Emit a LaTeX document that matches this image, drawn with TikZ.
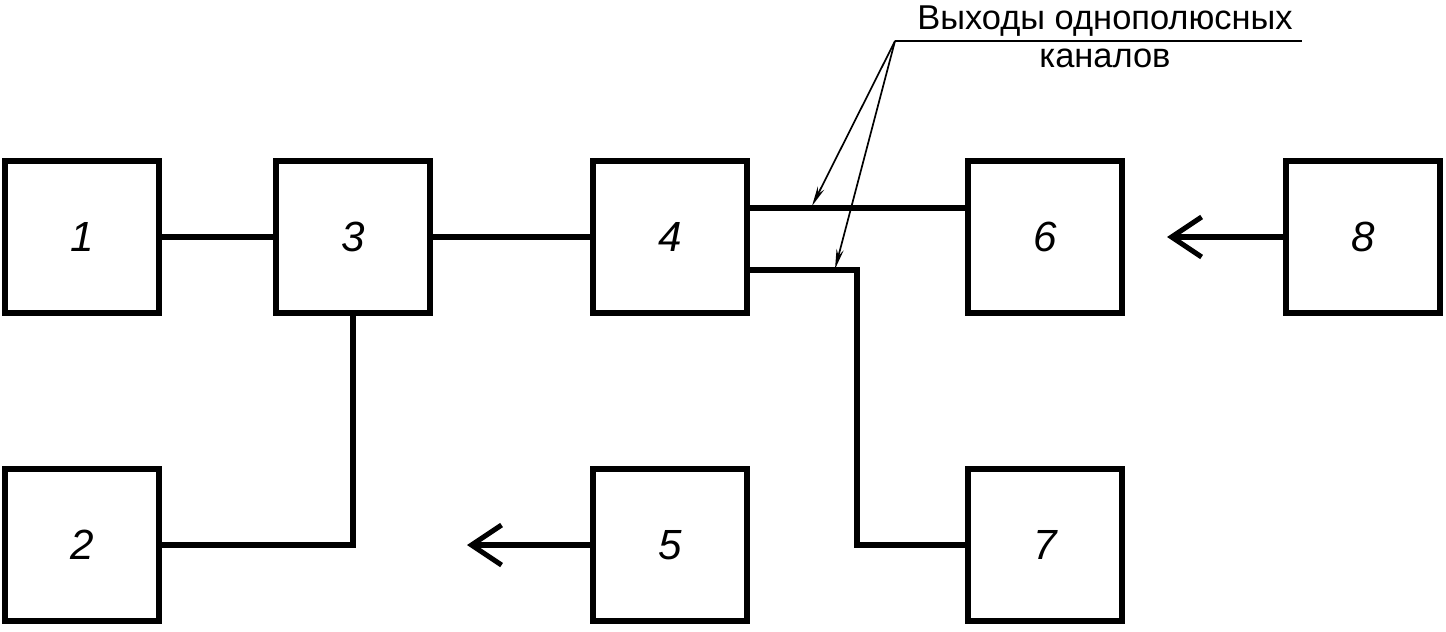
\documentclass[tikz,border=0pt]{standalone}
\usepackage{fontspec}
\setmainfont{Liberation Sans}
\usetikzlibrary{arrows.meta}

\begin{document}
\begin{tikzpicture}[x=0.025cm, y=-0.025cm,
  blk/.style={draw, line width=4.2pt, minimum width=3.85cm, minimum height=3.8cm, inner sep=0pt,
    font=\fontsize{30}{30}\selectfont\itshape},
  wire/.style={line width=3.6pt},
  feed/.style={line width=3.6pt, -{Straight Barb[length=7.5mm, width=10mm]}},
  lead/.style={line width=1.2pt, -{Stealth[length=5mm, width=1.8mm]}},
  lbl/.style={inner sep=0pt, font=\fontsize{24.5}{24.5}\selectfont}]
\useasboundingbox (0,0) rectangle (1446,631);
% blocks
\node[blk] (b1) at (82,237) {1};
\node[blk] (b3) at (353,237) {3};
\node[blk] (b4) at (670,237) {4};
\node[blk] (b6) at (1045,237) {6};
\node[blk] (b8) at (1363,237) {8};
\node[blk] (b2) at (82,545) {2};
\node[blk] (b5) at (670,545) {5};
\node[blk] (b7) at (1045,545) {7};
% connections
\draw[wire] (b1) -- (b3);
\draw[wire] (b3) -- (b4);
\draw[wire] (b3.south) -- (b3.south |- b2) -- (b2.east);
\draw[wire] (b4.east |- 0,208) coordinate (outA) -- (b6.west |- outA);
\draw[wire] (b4.east |- 0,270) coordinate (outB) -- (857,270) coordinate (bend) -- (bend |- b7) -- (b7.west);
\coordinate (tip6) at (1167,237);
\coordinate (tip5) at (467,545);
\draw[feed] (b8.west) -- (tip6);
\draw[feed] (b5.west) -- (tip5);
% label
\node[lbl] (t1) at (1105,21) {Выходы однополюсных};
\node[lbl] (t2) at (1105,58) {каналов};
\coordinate (knee) at (895,41);
\draw[line width=1.2pt] (knee) -- (1302,41);
\draw[lead] (knee) -- (812,206);
\draw[lead] (knee) -- (835,269);
\end{tikzpicture}
\end{document}
